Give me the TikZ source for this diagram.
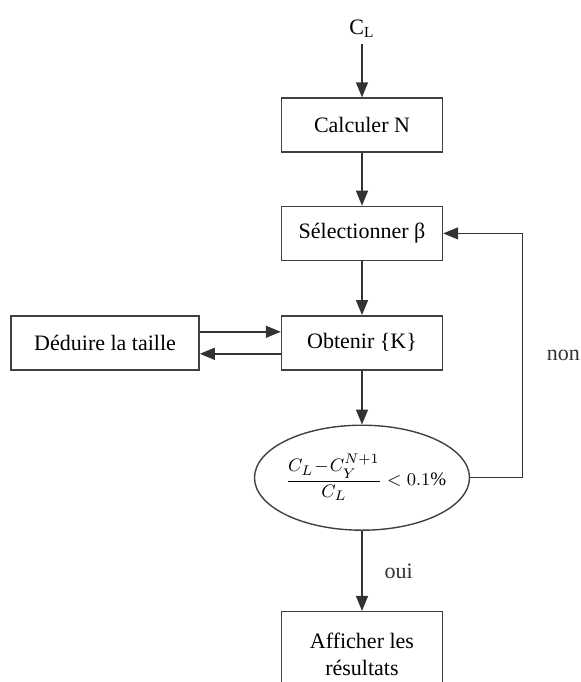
\documentclass[tikz,border=0pt]{standalone}
\usepackage{amsmath}
\usepackage{fontspec}
\setmainfont{Liberation Serif}
\usepackage{tikz}
\usetikzlibrary{shapes.geometric, arrows.meta, positioning}

\begin{document}
\begin{tikzpicture}[
  font=\fontsize{11}{13.5}\selectfont,
  box/.style={rectangle, draw=black!75, line width=0.7pt, minimum width=80.5pt,
              minimum height=27pt, align=center, inner sep=2pt},
  test/.style={ellipse, draw=black!75, line width=0.7pt, minimum width=107.5pt,
               minimum height=52.5pt, inner sep=0pt},
  arr/.style={-{Triangle[length=7.5pt,width=6pt]}, line width=0.7pt, black!80},
  lbl/.style={inner sep=3pt}
]
\useasboundingbox (0,0) rectangle (290.5pt,-341pt);

% ---- Main column ----
\node[box] (calc) at (181pt,-62.5pt) {Calculer N};
\node[lbl, above=26.5pt of calc] (cl) {C$_{\mathrm{L}}$};
\node[box, below=26.5pt of calc] (sel) {Sélectionner β};
\node[box, below=27pt of sel] (obt) {Obtenir \{K\}};
\node[test, below=27pt of obt] (crit)
  {\makebox[60pt]{\hspace{4pt}\fontsize{9.5}{12}\selectfont
   $\dfrac{C_L\!-\!C_Y^{N+1}}{C_L}\;{<}\;0.1\%$}};
\node[box, minimum height=43pt, below=40pt of crit] (aff) {Afficher les\\résultats};

% ---- Side box ----
\node[box, minimum width=94pt, left=40.5pt of obt] (ded) {Déduire la taille};

\draw[arr] (cl) -- (calc);
\draw[arr] (calc) -- (sel);
\draw[arr] (sel) -- (obt);
\draw[arr] ([yshift=5.5pt]ded.east) -- ([yshift=5.5pt]obt.west);
\draw[arr] ([yshift=-5.5pt]obt.west) -- ([yshift=-5.5pt]ded.east);
\draw[arr] (obt) -- (crit);

% ---- Loop and exit ----
\draw[arr] (crit.east) -- ++(26pt,0) |- node[lbl, pos=0.25, right=9pt] (non) {non} (sel.east);
\draw[arr] (crit) -- node[lbl, right=8pt] (oui) {oui} (aff);

\end{tikzpicture}
\end{document}
